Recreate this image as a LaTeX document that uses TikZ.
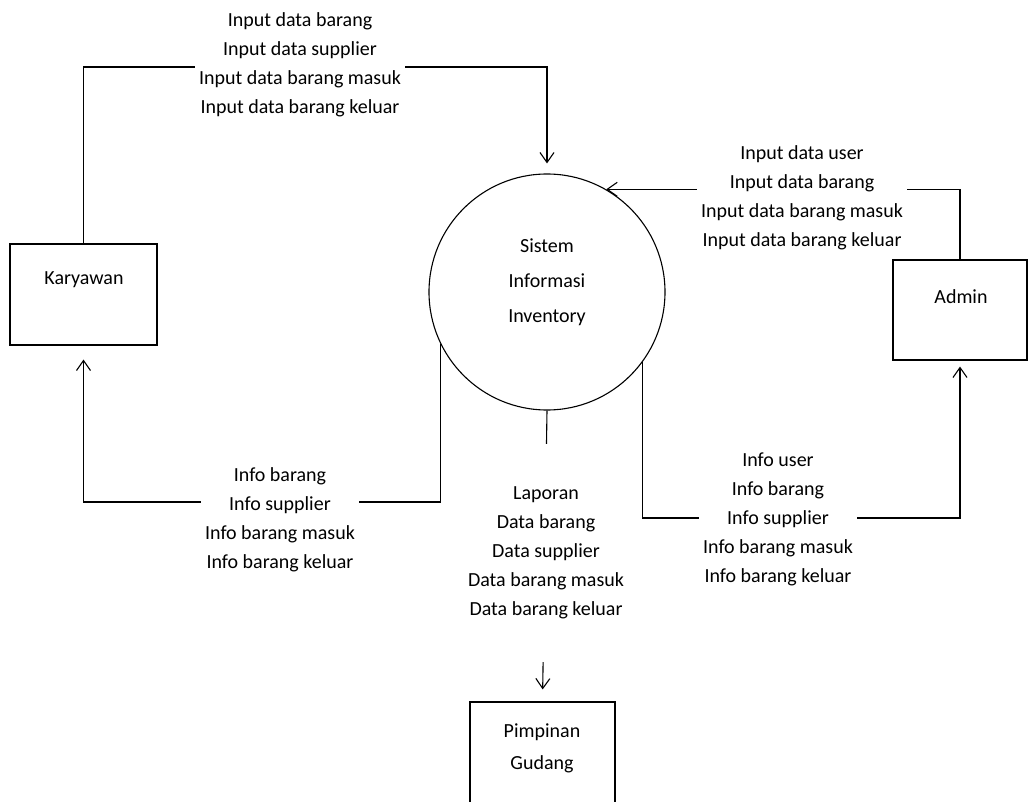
\documentclass[tikz,border=0pt]{standalone}
\usepackage{fontspec}
\setmainfont{Carlito}
\usetikzlibrary{arrows.meta, positioning, calc}

\begin{document}
\begin{tikzpicture}[x=1pt, y=-1pt, line width=1.1pt,
    every node/.style={font=\fontsize{20}{29}\selectfont},
    entity/.style={draw, rectangle, minimum width=147pt, minimum height=101pt, inner sep=0pt},
    flow/.style={-{Straight Barb[length=10pt, width=14pt]}},
    flowlab/.style={fill=white, align=center, inner xsep=4pt, inner ysep=2pt}]
    \clip (0,0) rectangle (1029,802);
    % entities and process
    \node[entity] (kary) at (83.5,294.5) {};
    \node[entity, minimum width=134pt, minimum height=100pt] (admin) at (960,310) {};
    \node[entity, minimum width=145pt, minimum height=130pt] (pim) at (542.5,767) {};
    \node[draw, circle, minimum size=236pt, inner sep=0pt] (sis) at (547,292) {};
    \node (kary-t) at (84,280) {Karyawan};
    \node (admin-t) at (961,297) {Admin};
    \node[align=center, font=\fontsize{20}{32}\selectfont] (pim-t) at (542,748) {Pimpinan\\Gudang};
    \node[align=center, font=\fontsize{20}{35}\selectfont] (sis-t) at (547,282) {Sistem\\Informasi\\Inventory};
    % data flows
    \coordinate (y1) at (0,67);
    \coordinate (y3) at (0,502);
    \coordinate (y4) at (0,518);
    \draw[flow, shorten >=10pt] (kary.north) -- (kary.north |- y1) -| (sis.north);
    \draw[flow] (admin.north) |- (sis.60);
    \draw[flow, shorten >=14pt] (sis.206) -- (sis.206 |- y3) -| (kary.south);
    \draw[flow, shorten >=12pt] (sis.south) -- (pim.north);
    \draw[flow, shorten >=6pt] (sis.324) -- (sis.324 |- y4) -| (admin.south);
    % flow labels
    \node[flowlab] (in-kary) at (300,65) {Input data barang\\Input data supplier\\Input data barang masuk\\Input data barang keluar};
    \node[flowlab] (in-admin) at (802,198) {Input data user\\Input data barang\\Input data barang masuk\\Input data barang keluar};
    \node[flowlab] (out-kary) at (280,520) {Info barang\\Info supplier\\Info barang masuk\\Info barang keluar};
    \node[flowlab] (out-admin) at (778,519) {Info user\\Info barang\\Info supplier\\Info barang masuk\\Info barang keluar};
    \node[flowlab, inner ysep=43pt] (out-pim) at (546,553) {Laporan\\Data barang\\Data supplier\\Data barang masuk\\Data barang keluar};
\end{tikzpicture}
\end{document}
